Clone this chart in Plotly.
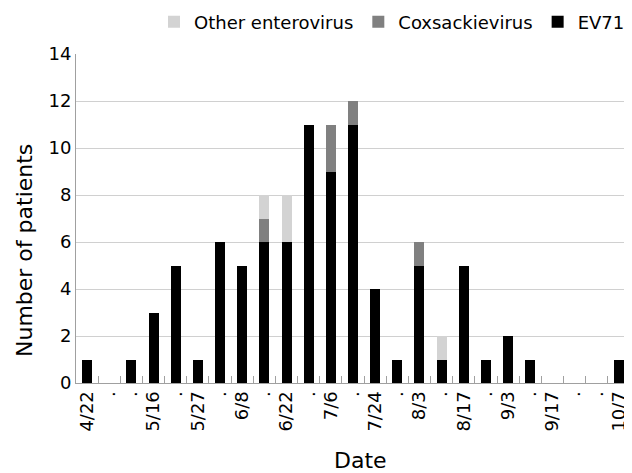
import plotly.graph_objects as go

dates = ["4/22", ".", ".", "5/16", ".", "5/27", ".", "6/8", ".", "6/22", ".", "7/6", ".",
         "7/24", ".", "8/3", ".", "8/17", ".", "9/3", ".", "9/17", ".", ".", "10/7"]
ev71 = [1, 0, 1, 3, 5, 1, 6, 5, 6, 6, 11, 9, 11, 4, 1, 5, 1, 5, 1, 2, 1, 0, 0, 0, 1]
coxsackie = [0, 0, 0, 0, 0, 0, 0, 0, 1, 0, 0, 2, 1, 0, 0, 1, 0, 0, 0, 0, 0, 0, 0, 0, 0]
other = [0, 0, 0, 0, 0, 0, 0, 0, 1, 2, 0, 0, 0, 0, 0, 0, 1, 0, 0, 0, 0, 0, 0, 0, 0]

# unique category keys (several tick labels are the same ".")
cats = [f"c{i}" for i in range(len(dates))]
FONT = "DejaVu Sans"

fig = go.Figure()
fig.add_trace(go.Bar(x=cats, y=ev71, name="EV71", marker=dict(color="#000000", line=dict(width=0))))
fig.add_trace(go.Bar(x=cats, y=coxsackie, name="Coxsackievirus", marker=dict(color="#808080", line=dict(width=0))))
fig.add_trace(go.Bar(x=cats, y=other, name="Other enterovirus", marker=dict(color="#d3d3d3", line=dict(width=0))))

# page body has an 8px margin, so the figure is sized to fit the 632x473 window
fig.update_layout(
    barmode="stack",
    bargap=0.55,
    width=624, height=465,
    margin=dict(l=68, r=2, t=46, b=90, autoexpand=False),
    paper_bgcolor="white", plot_bgcolor="white",
    font=dict(family=FONT, color="#000000", size=18),
    legend=dict(orientation="h", traceorder="reversed", x=1.0, xanchor="right",
                y=1.097, yanchor="middle", font=dict(size=18), itemwidth=30,
                bgcolor="rgba(0,0,0,0)"),
    showlegend=True,
    annotations=[
        dict(text="Number of patients", textangle=-90, xref="paper", yref="paper",
             x=-0.094, y=0.404, xanchor="center", yanchor="middle",
             showarrow=False, font=dict(size=22)),
        dict(text="Date", xref="paper", yref="paper",
             x=0.514, y=-0.237, xanchor="center", yanchor="middle",
             showarrow=False, font=dict(size=22)),
    ],
)
fig.update_xaxes(
    type="category", categoryorder="array", categoryarray=cats,
    tickmode="array", tickvals=cats, ticktext=dates, tickangle=-90,
    showline=True, linecolor="#a0a0a0", linewidth=1,
    ticks="inside", tickson="boundaries", ticklen=7, tickcolor="#a0a0a0",
    showgrid=False, zeroline=False, automargin=False,
    tickfont=dict(size=18),
)
fig.update_yaxes(
    range=[0, 14], dtick=2,
    showline=True, linecolor="#a0a0a0", linewidth=1,
    ticks="",
    showgrid=True, gridcolor="#d0d0d0", gridwidth=1,
    zeroline=False, automargin=False,
    tickfont=dict(size=18),
)

fig.write_html("out.html")
